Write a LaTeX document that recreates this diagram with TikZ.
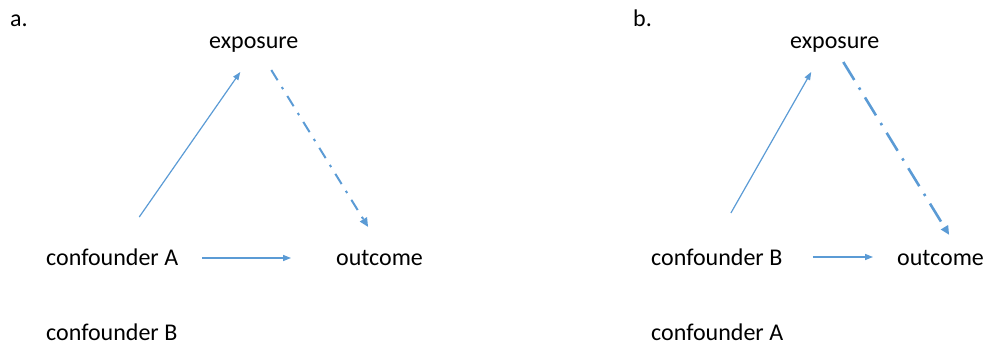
\documentclass[tikz,border=0pt]{standalone}
\usepackage{fontspec}
\setmainfont{Carlito}
\usetikzlibrary{arrows.meta,calc}

\definecolor{edgeblue}{HTML}{5B9BD5}
\tikzset{
  lbl/.style={anchor=base west,inner sep=0pt,font=\fontsize{24}{29}\selectfont},
  thinarr/.style={edgeblue,line width=1.2pt,-{Triangle[length=8pt,width=6pt]}},
  dasharr/.style={edgeblue,-{Triangle[length=9pt,width=8pt]}},
}

\begin{document}
\begin{tikzpicture}[x=1pt,y=-1pt]
  \useasboundingbox (0,0) rectangle (992,347);
  % panel a
  \node[lbl] (la) at (10,27) {a.};
  \node[lbl] (expoA) at (209,49) {exposure};
  \node[lbl] (confA) at (46,265) {confounder A};
  \node[lbl] (outA) at (336,265) {outcome};
  \node[lbl] (confBa) at (46,340) {confounder B};
  \draw[thinarr,shorten <=58.5pt,shorten >=28pt]
    ($(confA.base)+(-6.4,0)$) -- ($(expoA.base)+(2.5,0)$);
  \draw[dasharr,line width=2pt,dash pattern=on 12pt off 8pt on 2.5pt off 8pt,shorten <=24.7pt,shorten >=44.7pt]
    ($(expoA.base)+(4.5,0)$) -- ($(outA.base)+(12,0)$);
  \draw[thinarr,shorten <=90pt,shorten >=88.5pt]
    ($(confA.base)+(0,-7)$) -- ($(outA.base)+(0,-7)$);
  % panel b
  \node[lbl] (lb) at (633,27) {b.};
  \node[lbl] (expoB) at (790,49) {exposure};
  \node[lbl] (confBb) at (651,265) {confounder B};
  \node[lbl] (outB) at (897,265) {outcome};
  \node[lbl] (confAb) at (651,340) {confounder A};
  \draw[thinarr,shorten <=59.8pt,shorten >=26.4pt]
    ($(confBb.base)+(-15.5,0)$) -- ($(expoB.base)+(-10.5,0)$);
  \draw[dasharr,line width=2.6pt,dash pattern=on 21pt off 9pt on 2.5pt off 9pt,shorten <=15.3pt,shorten >=35.3pt]
    ($(expoB.base)+(0.5,0)$) -- ($(outB.base)+(27,0)$);
  \draw[thinarr,shorten <=96pt,shorten >=67.5pt]
    ($(confBb.base)+(0,-8)$) -- ($(outB.base)+(0,-8)$);
\end{tikzpicture}
\end{document}
